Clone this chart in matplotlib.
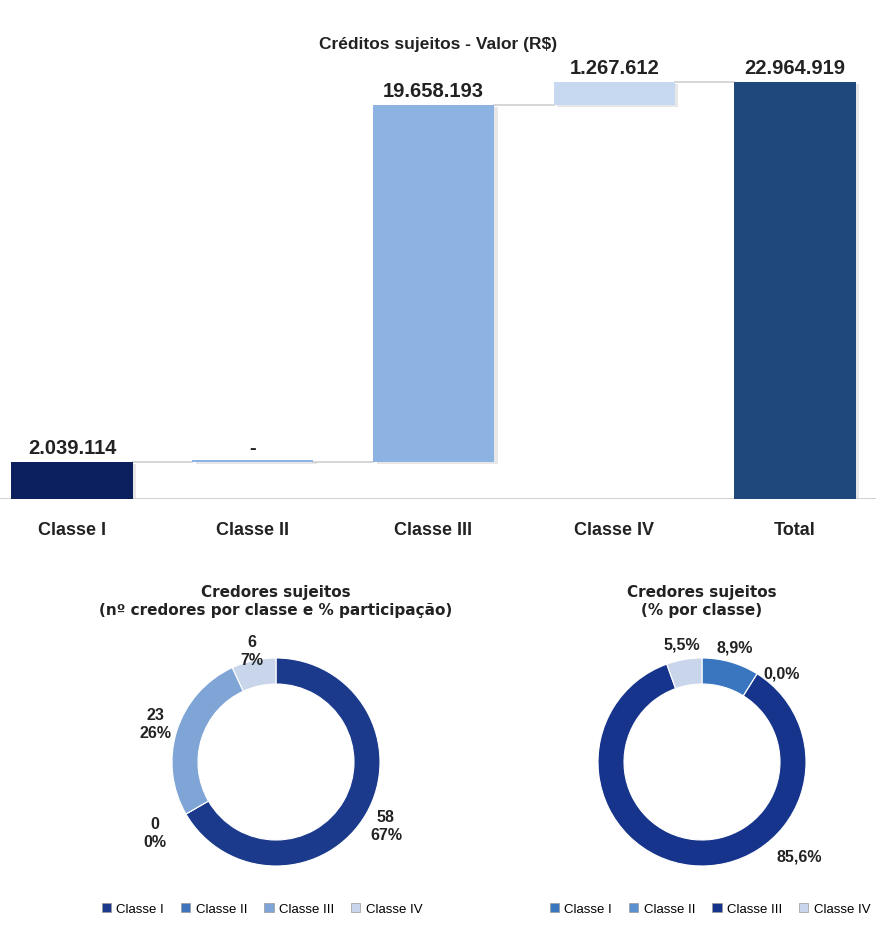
import matplotlib.pyplot as plt
import numpy as np
from matplotlib.patches import Patch

plt.rcParams['font.family'] = ['Liberation Sans', 'DejaVu Sans']

# waterfall data
categories = ['Classe I', 'Classe II', 'Classe III', 'Classe IV', 'Total']
steps = [2039114, 0, 19658193, 1267612]
step_labels = ['2.039.114', '-', '19.658.193', '1.267.612']
total_label = '22.964.919'

# donut data
classes = ['Classe I', 'Classe II', 'Classe III', 'Classe IV']
n_credores = [58, 0, 23, 6]
pct_credores = ['67%', '0%', '26%', '7%']
pct_valor = [8.9, 0.0, 85.6, 5.5]

C_DARK = '#0c1f5e'
C_LIGHT = '#8db3e2'
C_PALE = '#c6d9f1'
C_TOTAL = '#1f497d'
GREY = '#d0d0d0'

W, H = 876, 928
fig = plt.figure(figsize=(W / 100, H / 100), dpi=100)


def px_axes(x0, y0, x1, y1):
    # axes from pixel box (top-left origin)
    return fig.add_axes([x0 / W, 1 - y1 / H, (x1 - x0) / W, (y1 - y0) / H])


# ---------------- waterfall ----------------
ax = px_axes(0, 60, 876, 500)
total = sum(steps)
bottoms = np.concatenate([[0], np.cumsum(steps)[:-1]])
tops = bottoms + np.array(steps)
bar_colors = [C_DARK, C_LIGHT, C_LIGHT, C_PALE]
width = 0.67
x = np.arange(len(categories))

for i, (b, v) in enumerate(zip(bottoms, steps)):
    h = v if v > 0 else total * 0.004
    # soft shadow
    ax.bar(x[i] + 0.02, h, width, bottom=b - total * 0.004, color='#bbbbbb', alpha=0.35, zorder=1)
    ax.bar(x[i], h, width, bottom=b, color=bar_colors[i], zorder=3)
    ax.text(x[i], tops[i] + total * 0.012, step_labels[i], ha='center', va='bottom',
            fontsize=14.5, fontweight='bold', color='#222222')

ax.bar(x[4] + 0.02, total, width, bottom=-total * 0.004, color='#bbbbbb', alpha=0.35, zorder=1)
ax.bar(x[4], total, width, color=C_TOTAL, zorder=3)
ax.text(x[4], total + total * 0.012, total_label, ha='center', va='bottom',
        fontsize=14.5, fontweight='bold', color='#222222')

# connectors
levels = list(tops) + [total]
for i in range(len(categories) - 1):
    ax.plot([x[i] + width / 2, x[i + 1] - width / 2], [levels[i], levels[i]],
            color=GREY, lw=1.2, zorder=2)

ax.axhline(0, color='#c8c8c8', lw=1.2, zorder=2)
ax.set_xlim(-0.398, 4.448)
ax.set_ylim(0, total * 440 / 417)
ax.set_xticks(x)
ax.set_xticklabels(categories, fontsize=13, fontweight='bold', color='#222222')
ax.tick_params(axis='x', length=0, pad=16)
ax.set_yticks([])
for s in ax.spines.values():
    s.set_visible(False)

fig.text(0.5, 1 - 45 / H, 'Créditos sujeitos - Valor (R$)', ha='center', va='center',
         fontsize=12.5, fontweight='bold', color='#222222')


# ---------------- donuts ----------------
def donut(cx, cy, values, colors, labels, label_pos, title, legend_x, angle_fix=None):
    R = 104
    axd = px_axes(cx - 150, cy - 150, cx + 150, cy + 150)
    lim = 150 / R
    wedges, _ = axd.pie(values, colors=colors, startangle=90, counterclock=False,
                        radius=1, wedgeprops=dict(width=0.25, edgecolor='white', linewidth=0.8))
    axd.set_xlim(-lim, lim)
    axd.set_ylim(-lim, lim)
    axd.set_aspect('equal')
    axd.axis('off')
    for k, (w, lab, d) in enumerate(zip(wedges, labels, label_pos)):
        deg = (w.theta1 + w.theta2) / 2
        if angle_fix and k in angle_fix:
            deg = angle_fix[k]
        ang = np.deg2rad(deg)
        axd.text(d * np.cos(ang), d * np.sin(ang), lab, ha='center', va='center',
                 fontsize=11.5, fontweight='bold', color='#222222', linespacing=1.25)
    fig.text(cx / W, 1 - 601 / H, title, ha='center', va='center', fontsize=11,
             fontweight='bold', family='DejaVu Sans', color='#222222', linespacing=1.25)
    handles = [Patch(facecolor=c, edgecolor='#999999', lw=0.5, label=l) for c, l in zip(colors, classes)]
    fig.legend(handles=handles, loc='center', bbox_to_anchor=(legend_x / W, 1 - 910 / H),
               ncol=4, frameon=False, fontsize=9.5, handlelength=0.7, handleheight=0.7,
               handletextpad=0.4, columnspacing=1.3)


left_colors = ['#1b3a8c', '#3f74bd', '#7fa5d6', '#c9d5ea']
left_labels = [f'{n}\n{p}' for n, p in zip(n_credores, pct_credores)]
donut(276, 763, n_credores, left_colors, left_labels, [1.22, 1.35, 1.22, 1.1],
      'Credores sujeitos\n(nº credores por classe e % participação)', 262)

right_colors = ['#3a76bf', '#5a8fd0', '#17348c', '#c9d5ea']
right_labels = [f'{v:.1f}%'.replace('.', ',') for v in pct_valor]
donut(702, 763, pct_valor, right_colors, right_labels, [1.15, 1.15, 1.3, 1.15],
      'Credores sujeitos\n(% por classe)', 710, angle_fix={1: 48, 2: -44})

fig.savefig('out.png', dpi=100, facecolor='white')
